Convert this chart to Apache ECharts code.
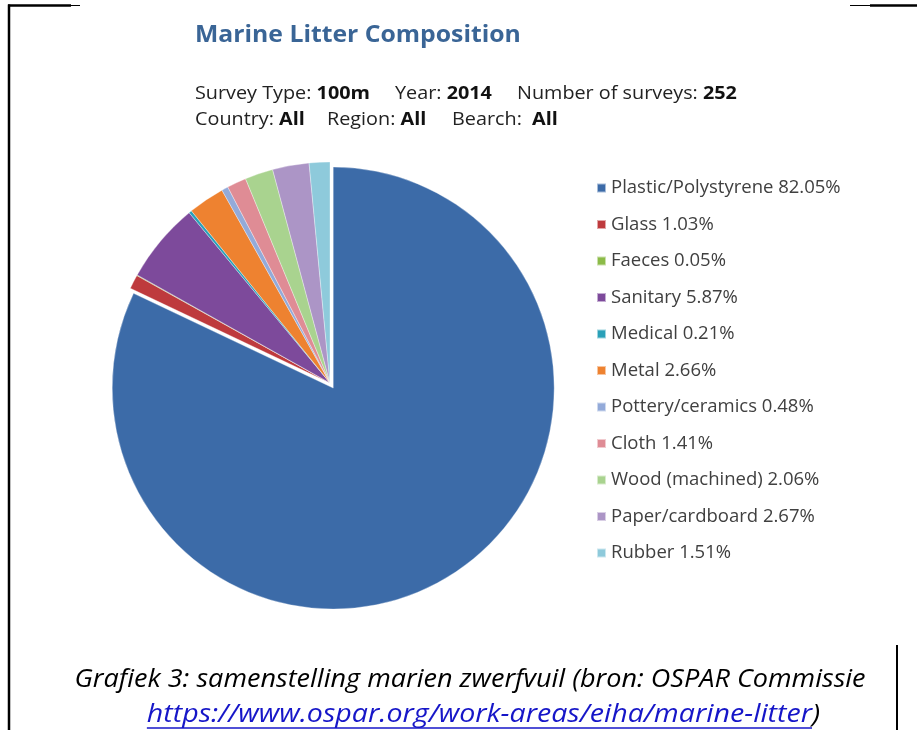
<!DOCTYPE html>
<html>
<head>
<meta charset="utf-8">
<title>Marine Litter Composition</title>
<script src="https://cdn.jsdelivr.net/npm/echarts@6/dist/echarts.min.js"></script>
<style>
  html, body { margin: 0; padding: 0; background: #ffffff; }
  #chart { width: 917px; height: 730px; }
</style>
</head>
<body>
<div id="chart"></div>
<script>
// Litter categories and their share of all items found (%)
const categories = [
  'Plastic/Polystyrene', 'Glass', 'Faeces', 'Sanitary', 'Medical', 'Metal',
  'Pottery/ceramics', 'Cloth', 'Wood (machined)', 'Paper/cardboard', 'Rubber'
];
const shares = [82.05, 1.03, 0.05, 5.87, 0.21, 2.66, 0.48, 1.41, 2.06, 2.67, 1.51];
const sliceColors = [
  '#3c6ba8', '#be3a3d', '#8cbb48', '#7d4a9b', '#2aa0b8', '#ee8230',
  '#93aad9', '#df8c95', '#a9d38f', '#ac95c6', '#8ecadb'
];

// Survey filter summary shown under the heading
const surveyInfo = [['Survey Type: ', '100m'], ['Year: ', '2014'], ['Number of surveys: ', '252']];
const scopeInfo = [['Country: ', 'All'], ['Region: ', 'All'], ['Bearch:  ', 'All']];

const captionText = 'Grafiek 3: samenstelling marien zwerfvuil (bron: OSPAR Commissie';
const sourceLink = 'https://www.ospar.org/work-areas/eiha/marine-litter';

const chart = echarts.init(document.getElementById('chart'), null, { renderer: 'canvas' });

const UI_FONT = '"Open Sans", "Liberation Sans", sans-serif';
const CAPTION_FONT_SIZE = 26;

function measure(text, font) {
  const ctx = document.createElement('canvas').getContext('2d');
  ctx.font = font;
  return ctx.measureText(text).width;
}

// one "label: value" group, value in bold, slightly widened
function infoRow(items, xs, y) {
  return items.map((pair, i) => ({
    type: 'text',
    x: xs[i],
    y: y,
    scaleX: 1.1,
    silent: true,
    style: {
      text: '{n|' + pair[0] + '}{b|' + pair[1] + '}',
      align: 'left',
      verticalAlign: 'middle',
      rich: {
        n: { fontFamily: UI_FONT, fontSize: 18, fill: '#222222' },
        b: { fontFamily: UI_FONT, fontSize: 18, fontWeight: 'bold', fill: '#111111' }
      }
    }
  }));
}

// Caption, second line: source link plus closing bracket, centred as a whole
const captionFont = 'italic ' + CAPTION_FONT_SIZE + 'px ' + UI_FONT;
const linkScale = 1.1;
const linkW = measure(sourceLink, captionFont) * linkScale;
const parenW = measure(')', captionFont) * linkScale;
const line2Left = 483.5 - (linkW + parenW) / 2;

const graphics = [
  // frame fragments
  { type: 'line', silent: true, shape: { x1: 8, y1: 5.5, x2: 71, y2: 5.5 }, style: { stroke: '#000', lineWidth: 2.5 } },
  { type: 'line', silent: true, shape: { x1: 71, y1: 5.5, x2: 80, y2: 5.5 }, style: { stroke: '#000', lineWidth: 1 } },
  { type: 'line', silent: true, shape: { x1: 850, y1: 5.5, x2: 870, y2: 5.5 }, style: { stroke: '#000', lineWidth: 1 } },
  { type: 'line', silent: true, shape: { x1: 870, y1: 5.5, x2: 917, y2: 5.5 }, style: { stroke: '#000', lineWidth: 2.5 } },
  { type: 'line', silent: true, shape: { x1: 9, y1: 4.5, x2: 9, y2: 730 }, style: { stroke: '#000', lineWidth: 2.5 } },
  { type: 'line', silent: true, shape: { x1: 897, y1: 645, x2: 897, y2: 730 }, style: { stroke: '#000', lineWidth: 2 } },

  // heading
  {
    type: 'text', x: 195, y: 36, scaleX: 1.1, silent: true,
    style: {
      text: 'Marine Litter Composition',
      fontFamily: UI_FONT, fontSize: 22.5, fontWeight: 'bold',
      fill: '#3a6596', align: 'left', verticalAlign: 'middle'
    }
  },
  ...infoRow(surveyInfo, [195, 395, 517], 94),
  ...infoRow(scopeInfo, [195, 327, 452], 120),

  // caption
  {
    type: 'text', x: 470, y: 680, scaleX: 1.04, silent: true,
    style: {
      text: captionText, font: captionFont, fill: '#000000',
      align: 'center', verticalAlign: 'middle'
    }
  },
  {
    type: 'text', x: line2Left, y: 715, scaleX: linkScale, silent: true,
    style: {
      text: sourceLink, font: captionFont, fill: '#1616c8',
      align: 'left', verticalAlign: 'middle'
    }
  },
  {
    type: 'line', silent: true,
    shape: { x1: line2Left, y1: 728, x2: line2Left + linkW, y2: 728 },
    style: { stroke: '#1616c8', lineWidth: 1.3 }
  },
  {
    type: 'text', x: line2Left + linkW, y: 715, scaleX: linkScale, silent: true,
    style: {
      text: ')', font: captionFont, fill: '#000000',
      align: 'left', verticalAlign: 'middle'
    }
  }
];

const pieData = categories.map((name, i) => {
  const item = {
    name: name,
    value: shares[i],
    itemStyle: { color: sliceColors[i] }
  };
  if (i === 0) {
    item.selected = true;
    item.select = { itemStyle: { color: sliceColors[i] } };
  }
  return item;
});

chart.setOption({
  animation: false,
  color: sliceColors,
  legend: {
    orient: 'vertical',
    left: 596,
    top: 178,
    padding: 0,
    icon: 'rect',
    itemWidth: 9,
    itemHeight: 9,
    itemGap: 16.5,
    selectedMode: false,
    data: categories,
    formatter: function (name) {
      const i = categories.indexOf(name);
      return name + ' ' + shares[i].toFixed(2) + '%';
    },
    textStyle: {
      fontFamily: UI_FONT,
      fontSize: 18.5,
      lineHeight: 20,
      color: '#404040'
    }
  },
  series: [{
    type: 'pie',
    center: [330, 383],
    radius: 221,
    startAngle: 90,
    clockwise: true,
    avoidLabelOverlap: false,
    selectedMode: 'single',
    selectedOffset: 6,
    label: { show: false },
    labelLine: { show: false },
    emphasis: { disabled: true },
    itemStyle: { borderColor: 'rgba(255,255,255,0.55)', borderWidth: 0.6 },
    data: pieData
  }],
  graphic: graphics
});
</script>
</body>
</html>
